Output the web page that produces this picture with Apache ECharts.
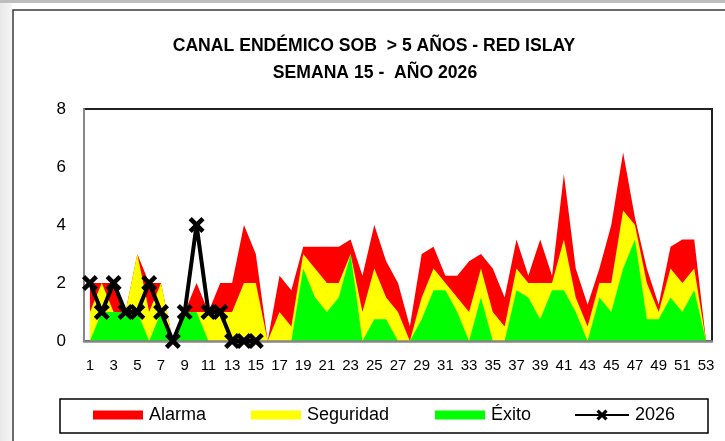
<!DOCTYPE html>
<html><head><meta charset="utf-8">
<script src="https://cdn.jsdelivr.net/npm/echarts@6/dist/echarts.min.js"></script>
<style>html,body{margin:0;padding:0;background:#fff;}#c{width:725px;height:441px;}</style>
</head><body><div id="c"></div>
<script>
const weeks = ['1','2','3','4','5','6','7','8','9','10','11','12','13','14','15','16','17','18','19','20','21','22','23','24','25','26','27','28','29','30','31','32','33','34','35','36','37','38','39','40','41','42','43','44','45','46','47','48','49','50','51','52','53'];
const alarma = [2,2,2,1,3,2,2,0, 1,2,1,2,2,4,3,0, 2.25,1.75,3.25,3.25,3.25,3.25,3.5,2.25, 4,2.75,2,0.5,3,3.25,2.25,2.25, 2.75,3,2.5,1.5,3.5,2.25,3.5,2.25, 5.75,2.5,1.25,2.5,4,6.5,4.25,2.5, 1.25,3.25,3.5,3.5,0];
const seguridad = [1,2,1,1,3,1,2,0, 1,1,1,1,1,2,2,0, 1,0.5,3,2.5,2,2,3,1, 2.5,1.5,1,0,1.5,2.5,2,1.5, 1,2.5,1,0.5,2.5,2,2,2, 3.5,1.5,0.5,2,2,4.5,4,2, 1,2.5,2,2.5,0];
const exito = [0,1,1,1,1,0,1,0, 1,1,0,0,0,0,0,0, 0,0,2.5,1.5,1,1.5,3,0, 0.75,0.75,0,0,0.75,1.75,1.75,1, 0,1.5,0,0,1.75,1.5,0.75,1.75, 1.75,1,0,1.5,1,2.5,3.5,0.75, 0.75,1.5,1,1.75,0];
const y2026 = [2,1,2,1,1,2,1,0,1,4,1,1,0,0,0];
const yTicks = [0,2,4,6,8];

const FONT = '"Liberation Sans", Arial, sans-serif';
const X_PATH = 'path://M0,2 L2,0 L5,3 L8,0 L10,2 L7,5 L10,8 L8,10 L5,7 L2,10 L0,8 L3,5 Z';

function areaSeries(name, data, color) {
  return {
    name: name, type: 'line', data: data, symbol: 'none', smooth: false,
    lineStyle: {width: 0}, itemStyle: {color: color},
    areaStyle: {color: color, opacity: 1}, z: 2, silent: true
  };
}
function leg(name, left, extra) {
  return Object.assign({
    data: [name], left: left, top: 405, itemWidth: 50, itemHeight: 9, icon: 'rect',
    textStyle: {fontSize: 18, fontFamily: FONT, color: '#000', padding: [0,0,0,1], lineHeight: 20},
    padding: 0
  }, extra || {});
}

const chart = echarts.init(document.getElementById('c'));
chart.setOption({
  animation: false,
  backgroundColor: '#fff',
  graphic: [
    {type: 'rect', shape: {x: 0, y: 0, width: 725, height: 3}, style: {fill: '#bdbdbd'}, z: -10},
    {type: 'rect', shape: {x: 0, y: 3, width: 12, height: 438},
      style: {fill: new echarts.graphic.LinearGradient(0, 0, 1, 0, [{offset: 0, color: '#e8e8e8'}, {offset: 1, color: '#f6f6f6'}])}, z: -10},
    {type: 'rect', shape: {x: 13, y: 10, width: 740, height: 460}, style: {fill: 'none', stroke: '#3a3a3a', lineWidth: 1.5}, z: -5},
    {type: 'rect', shape: {x: 60, y: 399, width: 648, height: 34}, style: {fill: 'none', stroke: '#000', lineWidth: 1.5}, z: -5}
  ],
  title: [
    {text: 'CANAL ENDÉMICO SOB  > 5 AÑOS - RED ISLAY', left: 374, top: 37, textAlign: 'center',
      textStyle: {fontSize: 17.6, fontWeight: 'bold', fontFamily: FONT, color: '#000'}, padding: 0},
    {text: 'SEMANA 15 -  AÑO 2026', left: 375, top: 64, textAlign: 'center',
      textStyle: {fontSize: 17.6, fontWeight: 'bold', fontFamily: FONT, color: '#000'}, padding: 0}
  ],
  legend: [
    leg('Alarma', 93),
    leg('Seguridad', 251),
    leg('Éxito', 435),
    leg('2026', 574, {icon: null, itemWidth: 54, itemHeight: 14})
  ],
  grid: {left: 84, right: 13, top: 109, bottom: 100, show: true, borderColor: '#222', borderWidth: 2, backgroundColor: 'transparent'},
  xAxis: {
    type: 'category', data: weeks, boundaryGap: true, z: 5,
    axisLine: {show: true, lineStyle: {color: '#868686', width: 2.5}},
    axisTick: {show: false},
    axisLabel: {interval: 1, fontSize: 15, fontFamily: FONT, color: '#000', margin: 17},
    splitLine: {show: false}
  },
  yAxis: {
    type: 'value', min: 0, max: 8, interval: 2, z: 5,
    axisLine: {show: true, lineStyle: {color: '#868686', width: 2}},
    axisTick: {show: false},
    axisLabel: {fontSize: 17, fontFamily: FONT, color: '#000', margin: 18,
      formatter: function (v) { return yTicks.indexOf(v) >= 0 ? String(v) : ''; }},
    splitLine: {show: false}
  },
  series: [
    areaSeries('Alarma', alarma, '#FF0000'),
    areaSeries('Seguridad', seguridad, '#FFFF00'),
    areaSeries('Éxito', exito, '#00FF00'),
    {
      name: '2026', type: 'line', data: y2026, z: 6,
      symbol: X_PATH, symbolSize: 16, showSymbol: true, showAllSymbol: true, symbolKeepAspect: true,
      lineStyle: {color: '#000', width: 4},
      itemStyle: {color: '#000'}
    }
  ]
});
</script></body></html>
